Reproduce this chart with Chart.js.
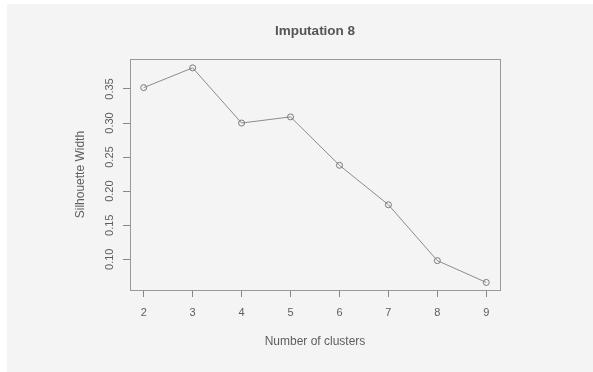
<!DOCTYPE html>
<html lang="en">
<head>
    <meta charset="UTF-8">
    <title>Imputation 8</title>
    <script src="https://cdn.jsdelivr.net/npm/chart.js"></script>
    <style>
        html, body { margin: 0; padding: 0; background: #ffffff; }
        canvas { display: block; }
    </style>
</head>
<body>
<canvas id="sil-chart" width="593" height="372"></canvas>
<script>
    // data
    const clusters = [2, 3, 4, 5, 6, 7, 8, 9];
    const silhouette = [0.352, 0.381, 0.300, 0.309, 0.238, 0.180, 0.098, 0.066];
    const xTicks = [2, 3, 4, 5, 6, 7, 8, 9];
    const yTicks = [0.10, 0.15, 0.20, 0.25, 0.30, 0.35];

    const axisGray = '#888888';
    const textGray = '#5e5e5e';
    const fontFamily = '"Liberation Sans", Arial, sans-serif';

    // panel background, box around plot and rotated y labels (R style)
    const rStyle = {
        id: 'rStyle',
        beforeDraw(chart) {
            const ctx = chart.ctx;
            ctx.save();
            ctx.fillStyle = '#ffffff';
            ctx.fillRect(0, 0, chart.width, chart.height);
            ctx.fillStyle = '#f4f4f4';
            ctx.fillRect(7, 4, chart.width - 7, chart.height - 4);
            ctx.restore();
        },
        afterDraw(chart) {
            const ctx = chart.ctx;
            const a = chart.chartArea;
            ctx.save();
            ctx.strokeStyle = '#999999';
            ctx.lineWidth = 1;
            ctx.strokeRect(Math.round(a.left) + 0.5, Math.round(a.top) + 0.5,
                Math.round(a.right - a.left), Math.round(a.bottom - a.top));

            const y = chart.scales.y;
            ctx.fillStyle = textGray;
            ctx.font = '11px ' + fontFamily;
            ctx.textAlign = 'center';
            ctx.textBaseline = 'middle';
            y.ticks.forEach(t => {
                ctx.save();
                ctx.translate(109.5, y.getPixelForValue(t.value));
                ctx.rotate(-Math.PI / 2);
                ctx.fillText(t.value.toFixed(2), 0, 0);
                ctx.restore();
            });
            ctx.restore();
        }
    };

    const ctx = document.getElementById('sil-chart').getContext('2d');
    const silChart = new Chart(ctx, {
        type: 'line',
        data: {
            datasets: [{
                label: 'Silhouette Width',
                data: clusters.map((c, i) => ({x: c, y: silhouette[i]})),
                borderColor: '#8c8c8c',
                borderWidth: 1,
                pointRadius: 3,
                pointHoverRadius: 3,
                pointBorderColor: '#7a7a7a',
                pointBorderWidth: 1,
                pointBackgroundColor: 'rgba(0,0,0,0)',
                tension: 0
            }]
        },
        options: {
            responsive: false,
            animation: false,
            layout: {
                padding: { left: 73, right: 93, top: 0, bottom: 0 }
            },
            scales: {
                x: {
                    type: 'linear',
                    min: 1.72,
                    max: 9.28,
                    afterBuildTicks: s => { s.ticks = xTicks.map(v => ({value: v})); },
                    afterFit: s => { s.height = 82; },
                    border: { display: false },
                    grid: {
                        drawOnChartArea: false,
                        tickLength: 7,
                        color: axisGray
                    },
                    ticks: {
                        padding: 9,
                        color: textGray,
                        font: { family: fontFamily, size: 11 },
                        maxRotation: 0,
                        callback: v => String(v)
                    },
                    title: {
                        display: true,
                        text: 'Number of clusters',
                        color: textGray,
                        font: { family: fontFamily, size: 12 },
                        padding: { top: 0, bottom: 23 }
                    }
                },
                y: {
                    type: 'linear',
                    min: 0.0549,
                    max: 0.3937,
                    afterBuildTicks: s => { s.ticks = yTicks.map(v => ({value: v})); },
                    afterFit: s => { s.width = 57; },
                    border: { display: false },
                    grid: {
                        drawOnChartArea: false,
                        tickLength: 7,
                        color: axisGray
                    },
                    ticks: { display: false },
                    title: {
                        display: true,
                        text: 'Silhouette Width',
                        color: textGray,
                        font: { family: fontFamily, size: 12 },
                        padding: { top: 0.5, bottom: 0 }
                    }
                }
            },
            plugins: {
                legend: { display: false },
                tooltip: { enabled: false },
                title: {
                    display: true,
                    text: 'Imputation 8',
                    fullSize: false,
                    color: '#555555',
                    font: { family: fontFamily, size: 13.5, weight: 'bold' },
                    padding: { top: 23, bottom: 20 }
                }
            }
        },
        plugins: [rStyle]
    });
</script>
</body>
</html>
